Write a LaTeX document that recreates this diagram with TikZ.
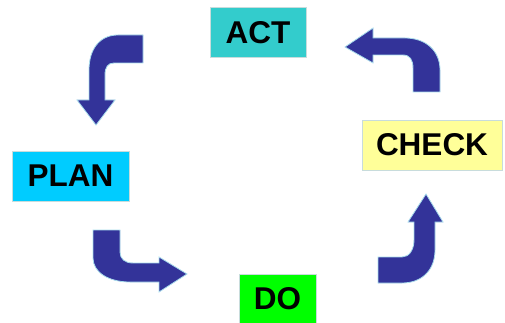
\documentclass[tikz,border=0pt]{standalone}
\usepackage{fontspec}
\setmainfont{Liberation Sans}
\usepackage{tikz}
\definecolor{actteal}{HTML}{33CCCC}
\definecolor{planblue}{HTML}{00CCFF}
\definecolor{dogreen}{HTML}{00FF00}
\definecolor{checkyellow}{HTML}{FFFF99}
\definecolor{arrowblue}{HTML}{333399}
\definecolor{rimblue}{HTML}{A8DCEC}
\definecolor{boxrim}{HTML}{C8DCDC}
\tikzset{
  phasebox/.style={
    rectangle, draw=boxrim, fill=#1, line width=0.8pt,
    minimum height=50pt, inner sep=0pt,
    font=\bfseries\fontsize{31.5}{31.5}\selectfont
  },
  phasebox/.default=actteal,
  bentarrow/.style={
    fill=arrowblue, draw=rimblue, line width=0.8pt, line join=miter
  },
}

\begin{document}
\begin{tikzpicture}[x=1pt, y=-1pt]
  \useasboundingbox (0,0) rectangle (505,323);
  % the four phases
  \node[phasebox=actteal, minimum width=96pt] (act) at (258,32.5) {ACT};
  \node[phasebox=planblue, minimum width=117pt] (plan) at (70.5,176) {PLAN};
  \node[phasebox=dogreen, minimum width=77pt] (do) at (277.5,299) {DO};
  \node[phasebox=checkyellow, minimum width=140pt] (check) at (432,145) {CHECK};
  % bent arrows between them
  \draw[bentarrow] (143,35) -- (118,35) .. controls (99,35) and (89,50) .. (89,70)
    -- (89,100) -- (77,100) -- (96,125) -- (115,100) -- (105,100) -- (105,75)
    .. controls (105,67) and (108,63) .. (114,63) -- (143,63) -- cycle;
  \draw[bentarrow] (345,47) -- (373,28) -- (373,38) -- (405,38)
    .. controls (425,38) and (440,50) .. (440,70) -- (440,92) -- (413,92) -- (413,68)
    .. controls (413,60) and (410,55) .. (403,55) -- (373,55) -- (373,63) -- cycle;
  \draw[bentarrow] (93,230) -- (120,230) -- (120,252)
    .. controls (120,259) and (125,263) .. (133,263) -- (159,263) -- (159,257)
    -- (187,274) -- (159,292) -- (159,282) -- (130,282)
    .. controls (108,282) and (93,272) .. (93,258) -- cycle;
  \draw[bentarrow] (426,194) -- (443,222) -- (435,222) -- (435,250)
    .. controls (435,270) and (422,283) .. (402,283) -- (378,283) -- (378,257)
    -- (402,257) .. controls (409,257) and (414,250) .. (414,240)
    -- (414,222) -- (408,222) -- cycle;
\end{tikzpicture}
\end{document}
